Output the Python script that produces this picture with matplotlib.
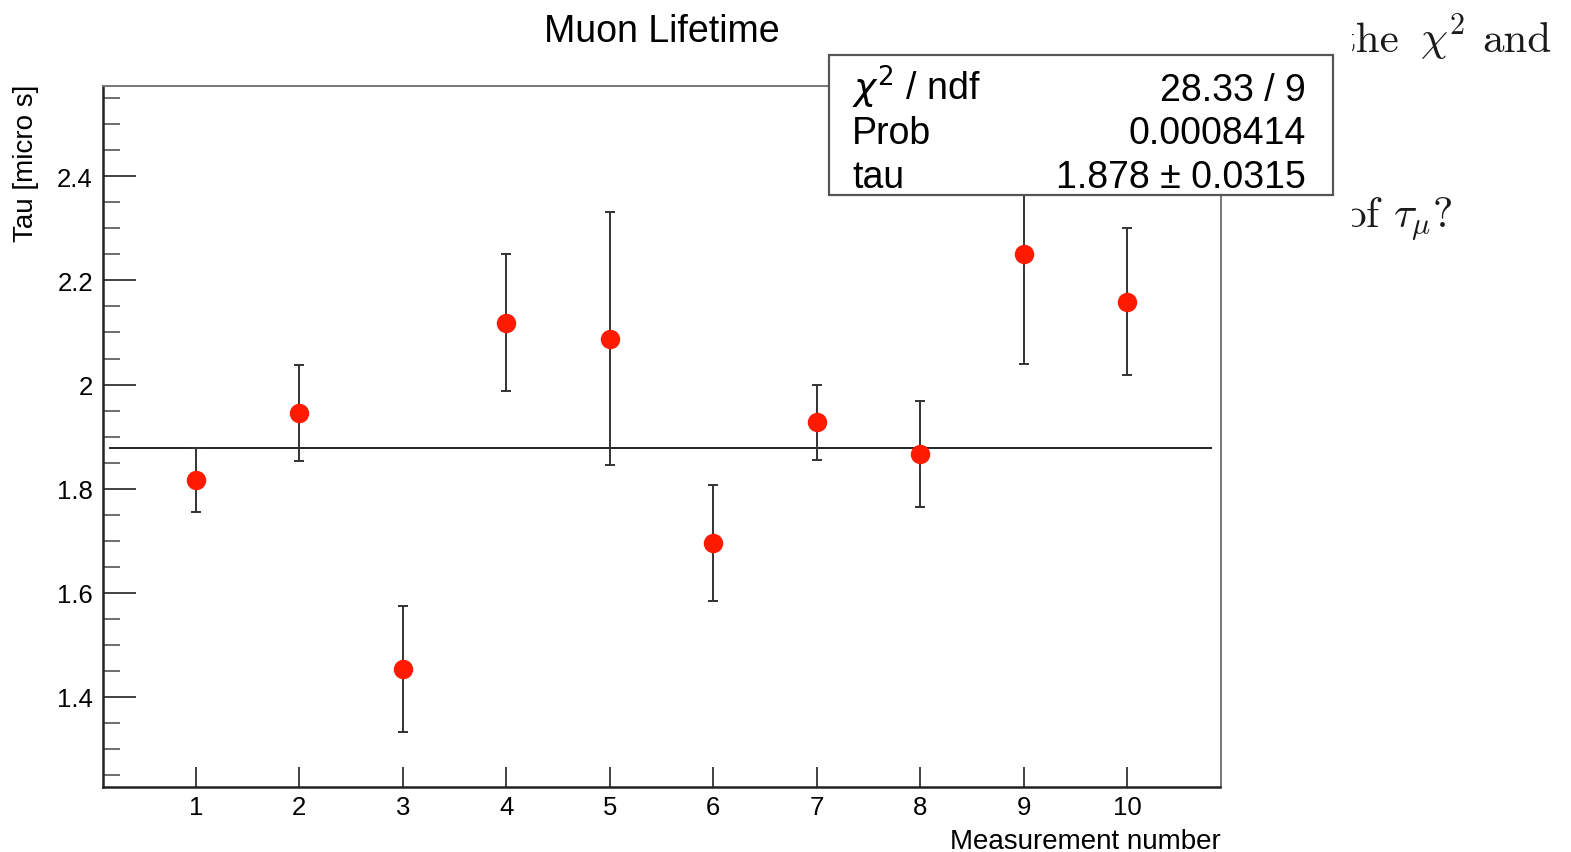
import matplotlib
matplotlib.use("Agg")
import matplotlib.pyplot as plt
from matplotlib.patches import Rectangle
from matplotlib.ticker import MultipleLocator, FixedLocator
from matplotlib.transforms import Bbox, TransformedBbox

measurement = [1, 2, 3, 4, 5, 6, 7, 8, 9, 10]
tau = [1.817, 1.946, 1.454, 2.119, 2.088, 1.696, 1.928, 1.867, 2.251, 2.159]
tau_err = [0.062, 0.092, 0.121, 0.131, 0.243, 0.111, 0.072, 0.102, 0.212, 0.141]
fit_tau = 1.878
fit_err = 0.0315
fit_range = [0.17, 10.81]
chi2 = 28.33
ndf = 9
prob = 0.0008414
y_ticks = [1.4, 1.6, 1.8, 2.0, 2.2, 2.4]
y_tick_labels = ["1.4", "1.6", "1.8", "2", "2.2", "2.4"]

W, H = 1571, 853
plt.rcParams['font.family'] = ['Liberation Sans', 'DejaVu Sans']
fig = plt.figure(figsize=(W / 100, H / 100), dpi=100)
fig.patch.set_facecolor('white')

def fx(px):
    return px / W

def fy(py):
    return 1 - py / H

left, right, top, bottom = 102.7, 1220.5, 86.7, 788
ax = fig.add_axes([fx(left), fy(bottom), fx(right) - fx(left), fy(top) - fy(bottom)])
ax.set_xlim(0.1, 10.9)
ax.set_ylim(1.227, 2.574)

ax.errorbar(measurement, tau, yerr=tau_err, fmt='o', color='#ff1a00', ms=13,
            mec='#ff1a00', ecolor='#333333', elinewidth=1.4, capsize=3.5,
            capthick=1.4, zorder=3)
ax.plot(fit_range, [fit_tau, fit_tau], color='#222222', lw=1.4, zorder=2)

ax.xaxis.set_major_locator(FixedLocator(measurement))
ax.set_xticklabels([str(m) for m in measurement])
ax.yaxis.set_major_locator(FixedLocator(y_ticks))
ax.set_yticklabels(y_tick_labels)
ax.yaxis.set_minor_locator(MultipleLocator(0.05))
ax.tick_params(axis='x', which='major', direction='in', length=14.5, width=1.2,
               labelsize=18.5, pad=6, top=False, color='#222222')
ax.tick_params(axis='y', which='major', direction='in', length=24, width=1.2,
               labelsize=18.5, pad=7, right=False, color='#222222')
ax.tick_params(axis='y', which='minor', direction='in', length=12, width=1.2,
               right=False, color='#555555')
ax.tick_params(axis='x', which='minor', bottom=False, top=False)

for s in ['left', 'bottom']:
    ax.spines[s].set_color('#222222')
    ax.spines[s].set_linewidth(1.8)
for s in ['top', 'right']:
    ax.spines[s].set_color('#777777')
    ax.spines[s].set_linewidth(1.4)

ax.set_xlabel('Measurement number', fontsize=20)
ax.xaxis.set_label_coords(1.0, -0.058)
ax.xaxis.label.set_horizontalalignment('right')
ax.set_ylabel('Tau [micro s]', fontsize=20)
ax.yaxis.set_label_coords(-0.057, 1.003)
ax.yaxis.label.set_horizontalalignment('right')

fig.text(fx(662), fy(42), 'Muon Lifetime', fontsize=27, ha='center', va='baseline')

# stats box
bx0, bx1, by0, by1 = 829, 1333, 56, 196
box = Rectangle((fx(bx0), fy(by1)), fx(bx1) - fx(bx0), fy(by0) - fy(by1),
                transform=fig.transFigure, facecolor='white', edgecolor='#555555',
                lw=1.6, zorder=10)
fig.patches.append(box)
rows = [(r'$\chi^2$ / ndf', f'{chi2:.2f} / {ndf}', 101),
        ('Prob', f'{prob:.7f}', 144),
        ('tau', f'{fit_tau:.3f} \u00b1 {fit_err:.4f}', 188)]
for lab, val, yy in rows:
    fig.text(fx(852), fy(yy), lab, fontsize=27, ha='left', va='baseline', zorder=11,
             math_fontfamily='dejavusans')
    fig.text(fx(1306), fy(yy), val, fontsize=27, ha='right', va='baseline', zorder=11)

# background document text (justified words, clipped at the left edge)
clipbox = TransformedBbox(Bbox.from_extents(fx(1352), 0, 1, 1), fig.transFigure)
doc_words = [('the', 1339, 52, 'left'), (r'$\chi^2$', 1420, 52, 'left'),
             ('and', 1552, 52, 'right'), (r'of $\tau_\mu$?', 1453, 228, 'right')]
for txt, xx, yb, ha in doc_words:
    t = fig.text(fx(xx), fy(yb), txt, fontsize=31, ha=ha, va='baseline',
                 family='cmr10', math_fontfamily='cm', color='#1a1a1a')
    t.set_clip_box(clipbox)
    t.set_clip_on(True)

fig.savefig('out.png', dpi=100)
